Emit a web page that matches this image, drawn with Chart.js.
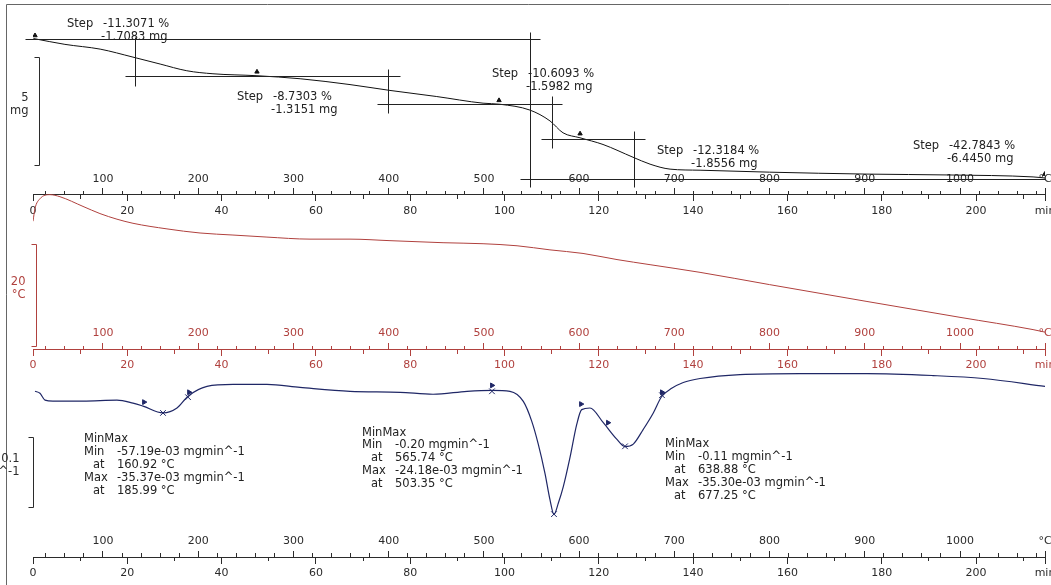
<!DOCTYPE html>
<html>
<head>
<meta charset="utf-8">
<script src="https://cdn.jsdelivr.net/npm/chart.js@4.4.1/dist/chart.umd.min.js"></script>
<style>
  html, body { margin: 0; padding: 0; background: #fff; }
  canvas { display: block; }
</style>
</head>
<body>
<canvas id="taChart" width="1051" height="585"></canvas>
<script>
// TGA curve: sample temperature (°C) -> mass (mg)
const tgaTemp = [27, 60, 97, 131.5, 160, 188, 215.5, 261.7, 307, 359.4, 401.4, 450, 499.1, 516.9, 548.4, 569.4, 583.1, 600.9, 625.1, 656.6, 674.5, 695.5, 727, 800, 902.3, 989.5, 1076.7, 1089.3];
const tgaMass = [15.06, 14.79, 14.57, 14.20, 13.88, 13.57, 13.43, 13.34, 13.20, 12.93, 12.66, 12.38, 12.07, 12.02, 11.75, 11.25, 10.70, 10.47, 10.16, 9.57, 9.25, 9.02, 8.97, 8.88, 8.79, 8.75, 8.66, 8.61];

// temperature signal (°C)
const diffTemp = [26.5, 28.6, 33.8, 44.3, 54.8, 79.0, 96.8, 114.7, 131.5, 167.2, 201.9, 236.5, 272.2, 317.4, 359.4, 401.4, 457.1, 499.1, 534.8, 569.4, 604.1, 639.8, 674.5, 727.0, 800, 902.3, 1000, 1076.7, 1089.3];
const diffValue = [25.0, 27.5, 29.4, 30.2, 29.8, 27.9, 26.5, 25.4, 24.6, 23.5, 22.7, 22.3, 21.9, 21.5, 21.5, 21.2, 20.8, 20.6, 20.2, 19.4, 18.7, 17.5, 16.5, 15.0, 12.6, 9.3, 6.2, 3.8, 3.3];

// DTG curve (mg/min)
const dtgTemp = [28.6, 33.8, 39.1, 47.5, 79.0, 114.7, 131.5, 142.0, 163.0, 177.7, 189.3, 209.2, 236.5, 272.2, 306.9, 359.4, 411.9, 446.6, 482.3, 508.5, 527.4, 541.4, 550.2, 557.1, 564.2, 569.4, 573.6, 578.2, 583.4, 590.5, 597.5, 602.7, 611.4, 625.4, 639.5, 648.2, 656.9, 667.4, 677.9, 686.7, 697.2, 709.4, 727.0, 769.0, 832.0, 902.3, 971.7, 1024.2, 1089.3];
const dtgValue = [-0.0256, -0.0284, -0.0382, -0.0396, -0.0396, -0.0382, -0.0424, -0.0466, -0.0563, -0.0494, -0.0326, -0.0186, -0.0158, -0.0158, -0.0200, -0.0256, -0.0270, -0.0298, -0.0256, -0.0242, -0.0256, -0.0400, -0.0680, -0.1007, -0.1426, -0.1798, -0.2008, -0.1846, -0.1612, -0.1193, -0.0727, -0.0517, -0.0494, -0.0703, -0.0937, -0.1043, -0.1007, -0.0797, -0.0564, -0.0330, -0.0214, -0.0130, -0.0074, -0.0018, -0.0004, -0.0004, -0.0032, -0.0074, -0.0186];

// evaluation markers
const tgaFlagTemp = [28.6, 261.7, 515.9, 601, 1089];
const tgaFlagMass = [15.20, 13.52, 12.20, 10.66, 8.79];
const dtgCrossTemp = [163.0, 189.3, 508.5, 573.6, 648.2, 687.0];
const dtgCrossValue = [-0.0564, -0.0340, -0.0256, -0.2004, -0.1039, -0.0312];
const dtgFlagTemp = [143.1, 190.4, 508.5, 602.0, 630.3, 687.0];
const dtgFlagValue = [-0.0410, -0.0270, -0.0172, -0.0438, -0.0703, -0.0270];

// axis tick labels
const tempTickValues = [100, 200, 300, 400, 500, 600, 700, 800, 900, 1000];
const timeTickValues = [0, 20, 40, 60, 80, 100, 120, 140, 160, 180, 200];

// step evaluation tangents [T1, mg1, T2, mg2]
const stepLines = [
  [18.1, 15.02, 558.9, 15.02],
  [133.6, 15.11, 133.6, 12.88],
  [123.1, 13.34, 411.9, 13.34],
  [399.3, 13.66, 399.3, 11.61],
  [387.8, 12.02, 582.0, 12.02],
  [548.4, 15.34, 548.4, 8.20],
  [571.5, 12.38, 571.5, 10.02],
  [560.0, 10.43, 669.2, 10.43],
  [657.6, 10.79, 657.6, 8.20],
  [537.9, 8.565, 1089.3, 8.565]
];
const stepLabels = [
  { T: 62.2, mg: 15.75, pct: '-11.3071 %', loss: '-1.7083 mg' },
  { T: 240.7, mg: 12.34, pct: '-8.7303 %', loss: '-1.3151 mg' },
  { T: 508.5, mg: 13.43, pct: '-10.6093 %', loss: '-1.5982 mg' },
  { T: 681.8, mg: 9.88, pct: '-12.3184 %', loss: '-1.8556 mg' },
  { T: 950.6, mg: 10.11, pct: '-42.7843 %', loss: '-6.4450 mg' }
];
const minMaxLabels = [
  { T: 80.0, v: -0.0941, min: '-57.19e-03 mgmin^-1', minAt: '160.92 °C', max: '-35.37e-03 mgmin^-1', maxAt: '185.99 °C' },
  { T: 372.0, v: -0.0843, min: '-0.20 mgmin^-1', minAt: '565.74 °C', max: '-24.18e-03 mgmin^-1', maxAt: '503.35 °C' },
  { T: 690.2, v: -0.1011, min: '-0.11 mgmin^-1', minAt: '638.88 °C', max: '-35.30e-03 mgmin^-1', maxAt: '677.25 °C' }
];

const red = '#b0413e';
const dark = '#2b2b2b';
const navy = '#1f2766';
const font = 'DejaVu Sans';

const scaleBars = [
  { axis: 'yTga', T: 32.8, from: 14.2, to: 9.2, text: ['5', 'mg'], color: dark, dx: -11 },
  { axis: 'yDiff', T: 29.6, from: 20.6, to: 0.6, text: ['20', '°C'], color: red, dx: -11 },
  { axis: 'yDtg', T: 26.5, from: -0.09, to: -0.19, text: ['0.1', 'mgmin^-1'], color: dark, dx: -14 }
];

// plot geometry (chart area fills the canvas height)
const AREA_H = 585;
const T_RANGE = [26.49, 1089.26];
const TIME_RANGE = [0, 214.63];
function rangeFor(v0, px0, pxPerUnit) {
  return { min: v0 - (AREA_H - px0) / pxPerUnit, max: v0 + px0 / pxPerUnit };
}
const tgaRange = rangeFor(15.065, 34, 22);
const diffRange = rangeFor(0, 350, 5.2);
const dtgRange = rangeFor(-0.02418, 392, 715);

const pts = (xs, ys) => xs.map((x, i) => ({ x: x, y: ys[i] }));
const flatten = s => { s.height = 0; s.paddingLeft = 0; s.paddingRight = 0; s.paddingTop = 0; s.paddingBottom = 0; };

function guideAxis(line, color, range, step, tickLen, padding, labels, unit) {
  return {
    type: 'linear', axis: 'x', position: { yp: line },
    min: range[0], max: range[1],
    grid: { drawOnChartArea: false, tickLength: tickLen, color: color, tickColor: color, tickWidth: 1 },
    border: { display: !!labels, color: color, width: 1 },
    ticks: {
      display: !!labels, stepSize: step, includeBounds: false, autoSkip: false,
      maxRotation: 0, minRotation: 0, padding: padding, color: color,
      font: { family: font, size: 11 },
      callback: (v, i, t) => (i === t.length - 1 ? unit : String(v))
    },
    afterBuildTicks: labels ? s => { s.ticks = labels.map(v => ({ value: v })).concat([{ value: s.max }]); } : undefined,
    afterFit: flatten
  };
}

const panels = [
  { key: 'Tga', line: 193, color: dark },
  { key: 'Diff', line: 350.5, color: red },
  { key: 'Dtg', line: 562, color: dark }
];

const scales = {
  x: { type: 'linear', display: false, min: T_RANGE[0], max: T_RANGE[1] },
  yp: { type: 'linear', display: false, min: 0, max: AREA_H, reverse: true },
  yTga: { type: 'linear', display: false, min: tgaRange.min, max: tgaRange.max },
  yDiff: { type: 'linear', display: false, min: diffRange.min, max: diffRange.max },
  yDtg: { type: 'linear', display: false, min: dtgRange.min, max: dtgRange.max }
};
panels.forEach(p => {
  scales['xTempMinor' + p.key] = guideAxis(p.line, p.color, T_RANGE, 20, -4, 0, null, '');
  scales['xTimeMinor' + p.key] = guideAxis(p.line, p.color, TIME_RANGE, 10, 4, 0, null, '');
  scales['xTemp' + p.key] = guideAxis(p.line, p.color, T_RANGE, 100, -7, -15.6, tempTickValues, '°C');
  scales['xTime' + p.key] = guideAxis(p.line, p.color, TIME_RANGE, 20, 6, 3.4, timeTickValues, 'min');
});

const annotate = {
  id: 'annotate',
  afterDatasetsDraw(chart) {
    const { ctx } = chart;
    const xs = chart.scales.x;
    const yT = chart.scales.yTga;
    const yG = chart.scales.yDtg;
    const px = v => Math.round(xs.getPixelForValue(v)) + 0.5;
    ctx.save();

    // outer frame
    ctx.strokeStyle = '#666';
    ctx.lineWidth = 1;
    ctx.beginPath();
    ctx.moveTo(6.5, 585); ctx.lineTo(6.5, 4.5); ctx.lineTo(1051, 4.5);
    ctx.stroke();

    // step tangents
    ctx.strokeStyle = '#222';
    stepLines.forEach(([t1, m1, t2, m2]) => {
      ctx.beginPath();
      ctx.moveTo(px(t1), Math.round(yT.getPixelForValue(m1)) + 0.5);
      ctx.lineTo(px(t2), Math.round(yT.getPixelForValue(m2)) + 0.5);
      ctx.stroke();
    });

    ctx.font = '11.5px "' + font + '"';
    ctx.textBaseline = 'middle';
    ctx.textAlign = 'left';
    ctx.fillStyle = '#222';
    stepLabels.forEach(s => {
      const x0 = xs.getPixelForValue(s.T);
      const y0 = yT.getPixelForValue(s.mg);
      ctx.fillText('Step', x0, y0);
      ctx.fillText(s.pct, x0 + 36, y0);
      ctx.fillText(s.loss, x0 + 34, y0 + 13);
    });

    minMaxLabels.forEach(b => {
      const x0 = xs.getPixelForValue(b.T);
      const y0 = yG.getPixelForValue(b.v);
      const lh = 12.8;
      ctx.fillText('MinMax', x0, y0);
      ctx.fillText('Min', x0, y0 + lh);
      ctx.fillText(b.min, x0 + 33, y0 + lh);
      ctx.fillText('at', x0 + 9, y0 + 2 * lh);
      ctx.fillText(b.minAt, x0 + 33, y0 + 2 * lh);
      ctx.fillText('Max', x0, y0 + 3 * lh);
      ctx.fillText(b.max, x0 + 33, y0 + 3 * lh);
      ctx.fillText('at', x0 + 9, y0 + 4 * lh);
      ctx.fillText(b.maxAt, x0 + 33, y0 + 4 * lh);
    });

    // scale bars
    scaleBars.forEach(b => {
      const sc = chart.scales[b.axis];
      const bx = px(b.T);
      const y1 = Math.round(sc.getPixelForValue(b.from)) + 0.5;
      const y2 = Math.round(sc.getPixelForValue(b.to)) + 0.5;
      ctx.strokeStyle = b.color;
      ctx.beginPath();
      ctx.moveTo(bx - 5, y1); ctx.lineTo(bx, y1); ctx.lineTo(bx, y2); ctx.lineTo(bx - 5, y2);
      ctx.stroke();
      const mid = (y1 + y2) / 2;
      ctx.fillStyle = b.color;
      ctx.textAlign = 'right';
      ctx.fillText(b.text[0], bx + b.dx, mid - 13);
      ctx.fillText(b.text[1], bx + b.dx, mid);
    });
    ctx.restore();
  }
};

new Chart(document.getElementById('taChart'), {
  type: 'scatter',
  data: {
    datasets: [
      {
        label: 'TGA', data: pts(tgaTemp, tgaMass), yAxisID: 'yTga', showLine: true,
        borderColor: '#111', borderWidth: 1, pointRadius: 0, cubicInterpolationMode: 'monotone'
      },
      {
        label: 'Temperature', data: pts(diffTemp, diffValue), yAxisID: 'yDiff', showLine: true,
        borderColor: red, borderWidth: 1, pointRadius: 0, cubicInterpolationMode: 'monotone'
      },
      {
        label: 'DTG', data: pts(dtgTemp, dtgValue), yAxisID: 'yDtg', showLine: true,
        borderColor: navy, borderWidth: 1.2, pointRadius: 0, cubicInterpolationMode: 'monotone'
      },
      {
        label: 'TGA marks', data: pts(tgaFlagTemp, tgaFlagMass), yAxisID: 'yTga',
        pointStyle: 'triangle', pointRadius: 2.5, backgroundColor: '#111', borderColor: '#111', borderWidth: 1
      },
      {
        label: 'DTG min/max', data: pts(dtgCrossTemp, dtgCrossValue), yAxisID: 'yDtg',
        pointStyle: 'crossRot', pointRadius: 4, borderColor: navy, borderWidth: 1
      },
      {
        label: 'DTG limits', data: pts(dtgFlagTemp, dtgFlagValue), yAxisID: 'yDtg',
        pointStyle: 'triangle', pointRotation: 90, pointRadius: 2.8, backgroundColor: navy, borderColor: navy, borderWidth: 1
      }
    ]
  },
  options: {
    responsive: false,
    animation: false,
    events: [],
    layout: { padding: { left: 33, right: 6, top: 0, bottom: 0 } },
    plugins: {
      legend: { display: false },
      tooltip: { enabled: false }
    },
    scales: scales
  },
  plugins: [annotate]
});
</script>
</body>
</html>
